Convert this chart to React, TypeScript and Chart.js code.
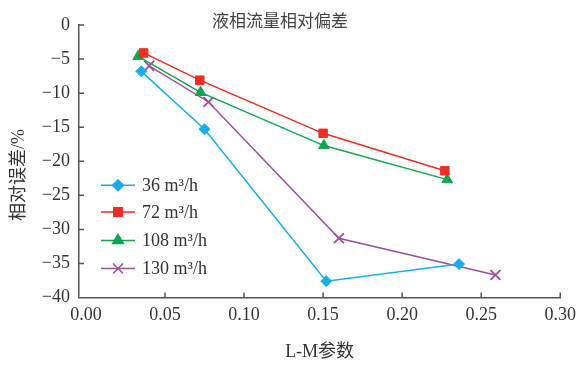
import React, { useEffect, useRef } from "react";
import { Chart, registerables } from "chart.js";
import { drawPoint } from "chart.js/helpers";

Chart.register(...registerables);

const seriesNames = ["36 m³/h", "72 m³/h", "108 m³/h", "130 m³/h"];
const lm36 = [0.035, 0.075, 0.152, 0.236];
const err36 = [-6.8, -15.3, -37.6, -35.1];
const lm72 = [0.0365, 0.072, 0.15, 0.227];
const err72 = [-4.1, -8.1, -15.9, -21.4];
const lm108 = [0.033, 0.0725, 0.1505, 0.2285];
const err108 = [-4.6, -9.9, -17.7, -22.7];
const lm130 = [0.04, 0.0775, 0.16, 0.259];
const err130 = [-6.0, -11.3, -31.3, -36.7];
const xTicks = [0, 0.05, 0.1, 0.15, 0.2, 0.25, 0.3];
const yTicks = [0, -5, -10, -15, -20, -25, -30, -35, -40];

const colors = ["#1aade9", "#ee2e24", "#13a452", "#9d4f98"];
const styles = ["rectRot", "rect", "triangle", "crossRot"];
const radii = [5.5, 6, 6.2, 7];
const legendRadii = [5.5, 6, 6.2, 7];

const FONT = '"Liberation Serif", "Noto Sans CJK SC", serif';

const toPts = (xs: number[], ys: number[]) => xs.map((x, i) => ({ x, y: ys[i] }));

export default function App() {
  const ref = useRef<HTMLCanvasElement | null>(null);
  useEffect(() => {
    if (!ref.current) return;
    const allX = [lm36, lm72, lm108, lm130];
    const allY = [err36, err72, err108, err130];
    const datasets = seriesNames.map((name, i) => ({
      label: name,
      data: toPts(allX[i], allY[i]),
      borderColor: colors[i],
      backgroundColor: colors[i],
      borderWidth: 1.5,
      pointStyle: styles[i],
      pointRadius: radii[i],
      pointBorderWidth: i === 3 ? 1.8 : 1,
      pointBorderColor: colors[i],
      pointBackgroundColor: colors[i],
      showLine: true,
      fill: false,
      tension: 0,
    }));

    const decor = {
      id: "decor",
      afterDraw(chart: any) {
        const ctx = chart.ctx;
        const xs = chart.scales.x;
        const ys = chart.scales.y;
        const area = chart.chartArea;
        ctx.save();
        // tick marks (inward)
        ctx.strokeStyle = "#555";
        ctx.lineWidth = 1.5;
        ctx.beginPath();
        xTicks.forEach((v) => {
          if (v === 0) return;
          const px = xs.getPixelForValue(v);
          ctx.moveTo(px, area.bottom);
          ctx.lineTo(px, area.bottom - 5);
        });
        yTicks.forEach((v) => {
          if (v === -40) return;
          const py = ys.getPixelForValue(v);
          ctx.moveTo(area.left, py);
          ctx.lineTo(area.left + 5, py);
        });
        ctx.stroke();

        // title
        ctx.fillStyle = "#444";
        ctx.font = `17px ${FONT}`;
        ctx.textAlign = "center";
        ctx.textBaseline = "middle";
        ctx.fillText("液相流量相对偏差", 280, 23);

        // y title
        ctx.save();
        ctx.translate(19, 175);
        ctx.rotate(-Math.PI / 2);
        ctx.fillStyle = "#333";
        ctx.font = `18px ${FONT}`;
        ctx.fillText("相对误差/%", 0, 0);
        ctx.restore();

        // legend
        const rowsY = [185.3, 212, 240.5, 268.5];
        seriesNames.forEach((name, i) => {
          const y = rowsY[i];
          ctx.strokeStyle = colors[i];
          ctx.lineWidth = 1.5;
          ctx.beginPath();
          ctx.moveTo(101, y);
          ctx.lineTo(135, y);
          ctx.stroke();
          ctx.fillStyle = colors[i];
          drawPoint(
            ctx,
            { pointStyle: styles[i], radius: legendRadii[i], rotation: 0, borderWidth: i === 3 ? 1.8 : 1 },
            118,
            y
          );
          ctx.fillStyle = "#333";
          ctx.font = `18px ${FONT}`;
          ctx.textAlign = "left";
          ctx.textBaseline = "middle";
          ctx.fillText(name, 142, y + 1);
        });
        ctx.restore();
      },
    };

    const chart = new Chart(ref.current, {
      type: "scatter",
      data: { datasets },
      options: {
        animation: false,
        responsive: false,
        devicePixelRatio: 1,
        layout: { padding: { top: 25, right: 17, left: 0, bottom: 0 } },
        plugins: { legend: { display: false }, tooltip: { enabled: false }, title: { display: false } },
        scales: {
          x: {
            type: "linear",
            min: -0.0044,
            max: 0.3,
            afterBuildTicks: (scale: any) => {
              scale.ticks = xTicks.map((v) => ({ value: v }));
            },
            afterFit: (scale: any) => {
              scale.height = 67.5;
            },
            grid: { display: false, drawTicks: false },
            border: { display: true, color: "#555", width: 1.5 },
            ticks: {
              padding: 7,
              color: "#333",
              font: { family: FONT, size: 18 },
              maxRotation: 0,
              autoSkip: false,
              callback: (v: any) => Number(v).toFixed(2),
            },
            title: {
              display: true,
              text: "L-M参数",
              color: "#333",
              font: { family: FONT, size: 18 },
              padding: { top: 0, bottom: 2 },
            },
          },
          y: {
            type: "linear",
            min: -40,
            max: 0,
            afterBuildTicks: (scale: any) => {
              scale.ticks = yTicks.map((v) => ({ value: v }));
            },
            afterFit: (scale: any) => {
              scale.width = 79;
            },
            grid: { display: false, drawTicks: false },
            border: { display: true, color: "#555", width: 1.5 },
            ticks: {
              padding: 9,
              color: "#333",
              font: { family: FONT, size: 18 },
              autoSkip: false,
              callback: (v: any) => (Number(v) < 0 ? "\u2212" + Math.abs(Number(v)) : "0"),
            },
          },
        },
      },
      plugins: [decor],
    } as any);
    return () => chart.destroy();
  }, []);

  return (
    <div style={{ position: "absolute", left: 0, top: 0, width: 583, height: 365, background: "#fff" }}>
      <canvas ref={ref} width={583} height={365} style={{ width: 583, height: 365 }} />
    </div>
  );
}
